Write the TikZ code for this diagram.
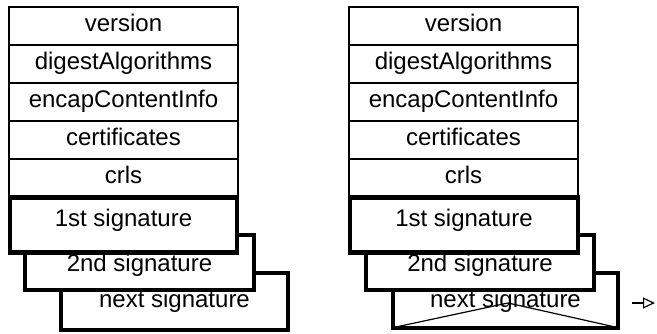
\documentclass[tikz,border=0pt]{standalone}
\usepackage{fontspec}
\setmainfont{Liberation Sans}
\usetikzlibrary{arrows.meta,calc}
\begin{document}
\begin{tikzpicture}[x=1pt,y=-1pt,
  rowbox/.style={draw=black, line width=1.3pt, fill=white, minimum width=229pt, minimum height=38pt,
    inner sep=0pt, text height=17pt, text depth=5pt, font=\fontsize{24pt}{28pt}\selectfont},
  sigbox/.style={draw=black, line width=4.5pt, fill=white, inner sep=0pt},
  sigtext/.style={anchor=base, inner sep=0pt, font=\fontsize{24pt}{28pt}\selectfont},
  thinline/.style={draw=black, line width=1.2pt}]
\useasboundingbox (0,0) rectangle (657,334);
% ---------- left stack ----------
\node[rowbox] (Lr1) at (123.5,26) {version};
\node[rowbox] (Lr2) at (123.5,64) {digestAlgorithms};
\node[rowbox] (Lr3) at (123.5,102) {encapContentInfo};
\node[rowbox] (Lr4) at (123.5,140) {certificates};
\node[rowbox] (Lr5) at (123.5,178) {crls};
\node[sigbox, minimum width=227pt, minimum height=57pt] (Ln) at (174.5,301.5) {};
\node[sigtext] (Lnt) at (174.5,308) {next signature};
\node[sigbox, minimum width=229pt, minimum height=55pt] (L2) at (139.5,262.5) {};
\node[sigtext] (L2t) at (139.5,272) {2nd signature};
\node[sigbox, minimum width=227pt, minimum height=55pt] (L1) at (123.5,225) {};
\node[sigtext] (L1t) at (123.5,227) {1st signature};
% ---------- right stack ----------
\node[rowbox] (Rr1) at (463.5,26) {version};
\node[rowbox] (Rr2) at (463.5,64) {digestAlgorithms};
\node[rowbox] (Rr3) at (463.5,102) {encapContentInfo};
\node[rowbox] (Rr4) at (463.5,140) {certificates};
\node[rowbox] (Rr5) at (463.5,178) {crls};
\node[sigbox, minimum width=225pt, minimum height=55pt] (Rn) at (505.5,300.5) {};
\coordinate (apex) at (508,303);
\draw[thinline] ($(Rn.south west)+(4,-3)$) -- (apex) -- ($(Rn.south east)+(-4,-3)$);
\node[sigtext] (Rnt) at (505.5,308) {next signature};
\node[sigbox, minimum width=228pt, minimum height=55pt] (R2) at (480,262.5) {};
\node[sigtext] (R2t) at (480,272) {2nd signature};
\node[sigbox, minimum width=228pt, minimum height=55pt] (R1) at (464,225) {};
\node[sigtext] (R1t) at (464,227) {1st signature};
% ---------- arrow ----------
\coordinate (a1) at (632,303);
\coordinate (a2) at (655,303);
\draw[thinline, -{Triangle[open, length=12pt, width=11pt]}] (a1) -- (a2);
\end{tikzpicture}
\end{document}
